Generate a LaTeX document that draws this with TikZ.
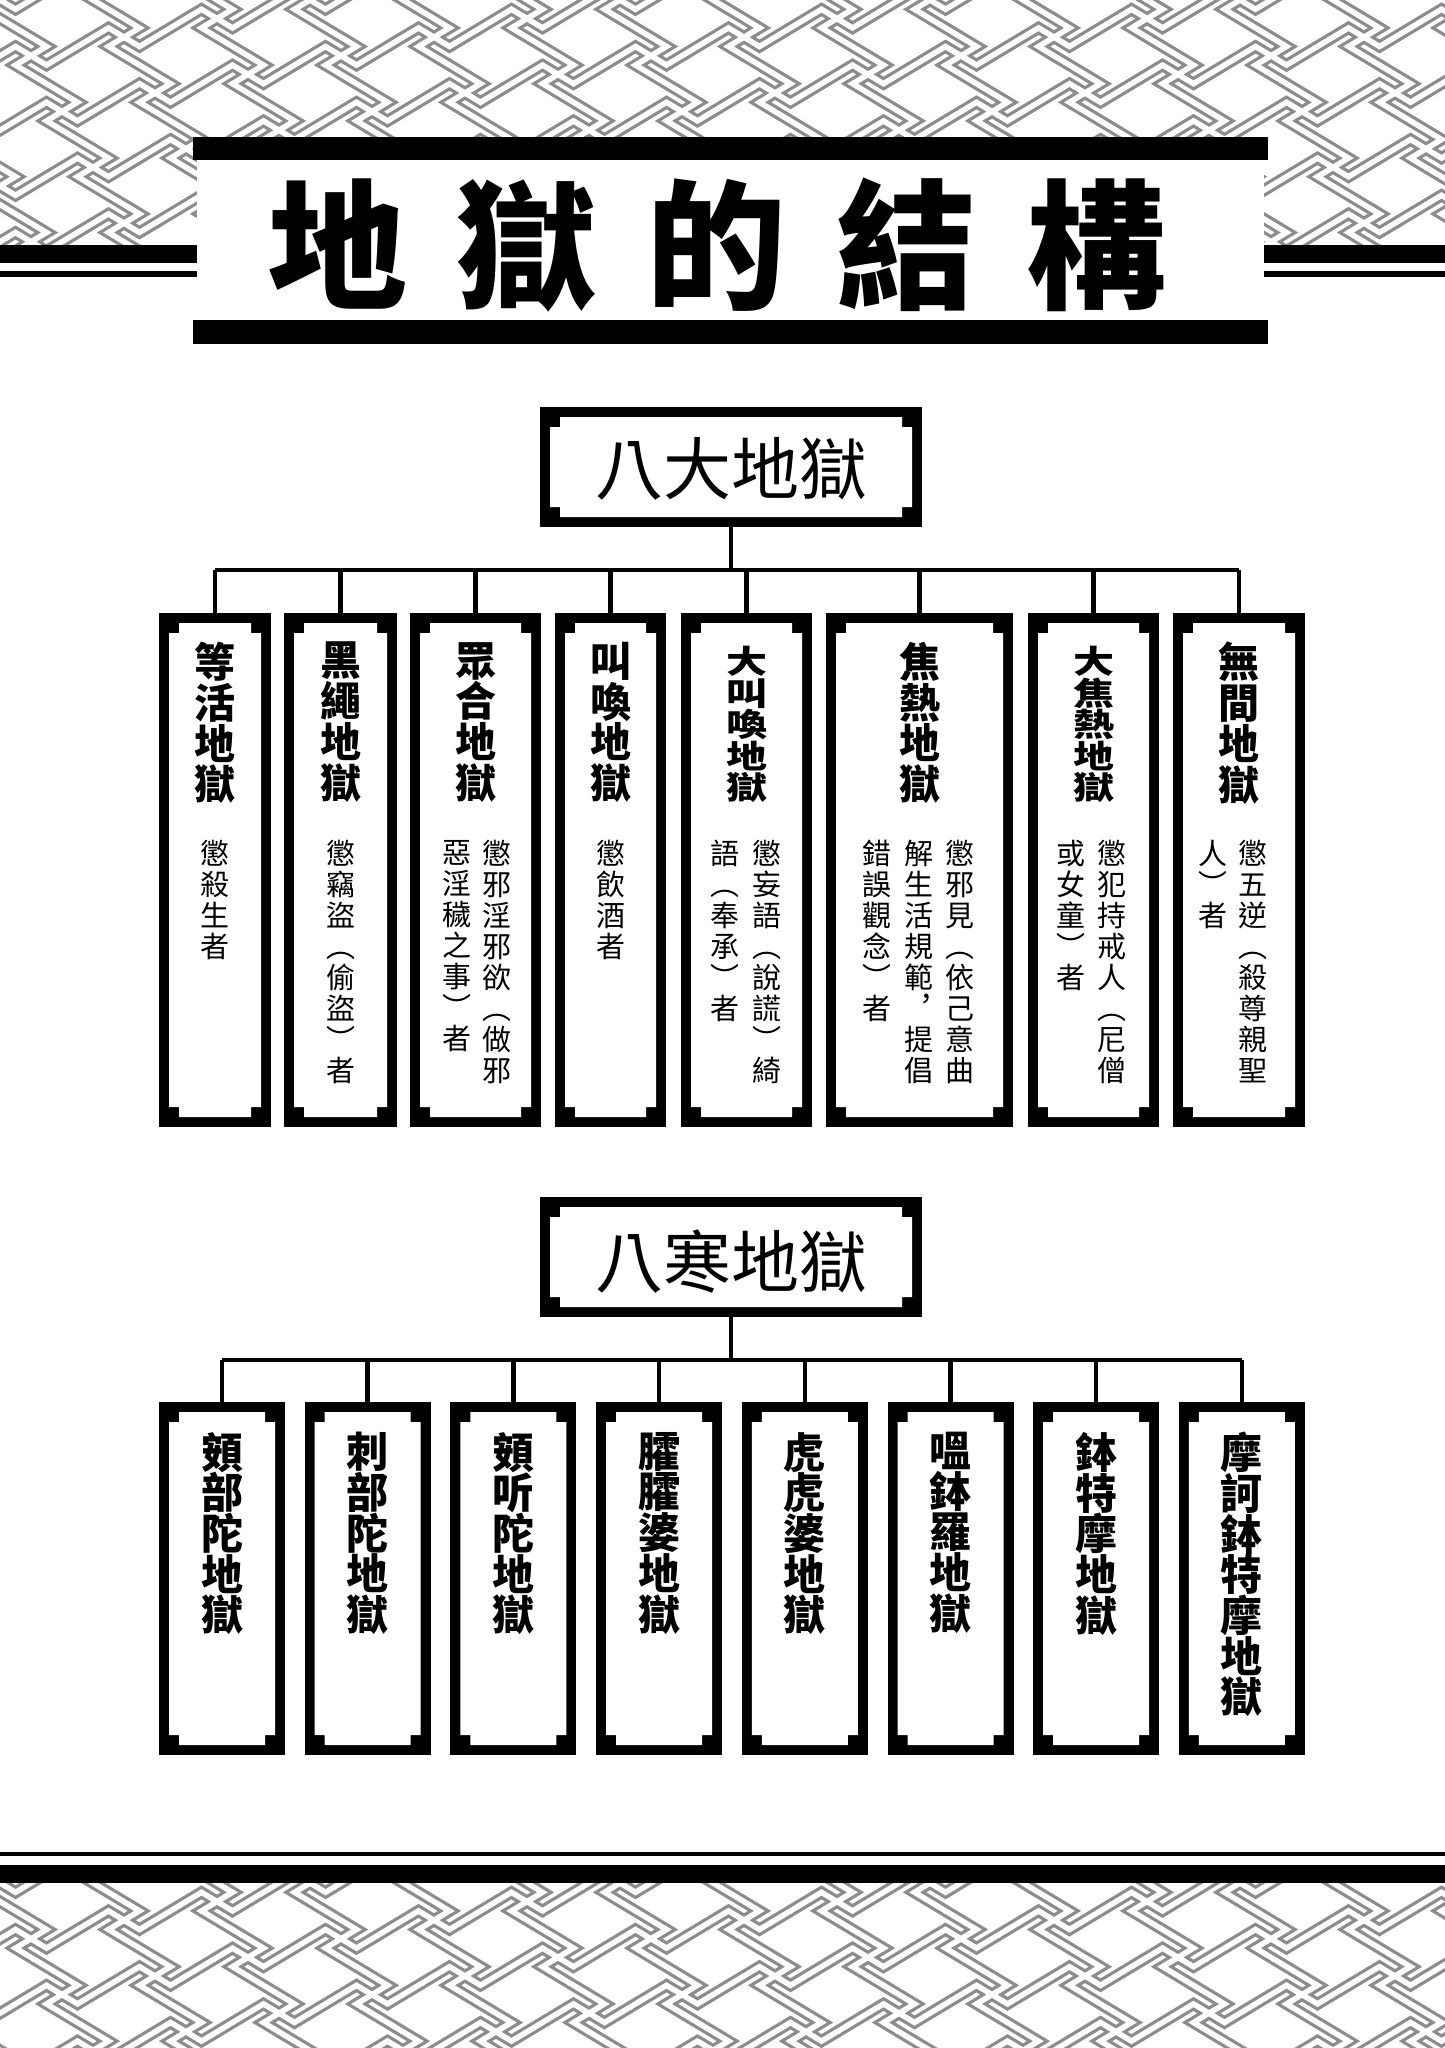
\documentclass[tikz,border=0pt]{standalone}
\usepackage{fontspec}
\usepackage{graphicx}
\usetikzlibrary{calc}
\newfontfamily\cjk{Noto Sans CJK TC}
\newcommand\sq[1]{\scalebox{1}[0.78]{#1}}
\definecolor{sayagray}{gray}{0.55}
% sayagata centre lines (square frame units): linked manji
\newcommand\sayagata{%
 \foreach \m in {-2,...,11} { \foreach \n in {-16,...,3} {
   ({10*\m+2*\n},{10*\m+4*\n}) -- ++(1,0) -- ++(0,2)
   ({10*\m+2*\n},{10*\m+4*\n}) -- ++(0,1) -- ++(-2,0)
   ({10*\m+2*\n},{10*\m+4*\n}) -- ++(-1,0) -- ++(0,-2)
   ({10*\m+2*\n},{10*\m+4*\n}) -- ++(0,-1) -- ++(2,0)
 }}}
\tikzset{
  framebox/.style={rectangle, fill=black, inner sep=0pt, draw=none,
    path picture={
      \fill[white] let \p1=(path picture bounding box.south west), \p2=(path picture bounding box.north east) in
        (\x1+20pt,\y1+10pt) -- (\x2-20pt,\y1+10pt) -- (\x2-20pt,\y1+20pt) -- (\x2-10pt,\y1+20pt) --
        (\x2-10pt,\y2-20pt) -- (\x2-20pt,\y2-20pt) -- (\x2-20pt,\y2-10pt) -- (\x1+20pt,\y2-10pt) --
        (\x1+20pt,\y2-20pt) -- (\x1+10pt,\y2-20pt) -- (\x1+10pt,\y1+20pt) -- (\x1+20pt,\y1+20pt) -- cycle;
    }},
  hdr/.style={framebox, minimum width=382pt, minimum height=120pt},
  upbox/.style={framebox, minimum height=514pt},
  lowbox/.style={framebox, minimum width=126pt, minimum height=353pt},
  ttl/.style={anchor=north, inner sep=0pt, align=center, font={\cjk\bfseries\fontsize{41}{40.7}\selectfont\lineskiplimit=-100pt}},
  ttlB/.style={anchor=north, inner sep=0pt, align=center, font={\cjk\bfseries\fontsize{42}{40.7}\selectfont\lineskiplimit=-100pt}},
  desc/.style={anchor=north, inner sep=0pt, align=center, font={\cjk\fontsize{29}{31}\selectfont\lineskiplimit=-100pt}},
  conn/.style={line width=4.5pt, black},
  sayaframe/.style={x={(15.5pt,-9.3pt)}, y={(15.5pt,9.3pt)}},
  sayaout/.style={draw=sayagray, line width=12pt, line cap=rect},
  sayain/.style={draw=white, line width=5.5pt, line cap=rect},
}
\begin{document}
\begin{tikzpicture}[x=1pt,y=-1pt]
\useasboundingbox (0,0) rectangle (1445,2048);
\fill[white] (0,0) rectangle (1445,2048);
% top pattern band
\begin{scope}
  \clip (0,0) rectangle (1445,245);
  \begin{scope}[sayaframe]
    \path[sayaout] \sayagata;
    \path[sayain] \sayagata;
  \end{scope}
\end{scope}
% bottom pattern band
\begin{scope}
  \clip (0,1883) rectangle (1445,2048);
  \begin{scope}[shift={(0pt,-1883pt)}, sayaframe]
    \path[sayaout] \sayagata;
    \path[sayain] \sayagata;
  \end{scope}
\end{scope}
% top rules
\fill[black] (0,245) rectangle (197,263);
\fill[black] (0,271) rectangle (197,277);
\fill[black] (1264,245) rectangle (1445,263);
\fill[black] (1264,271) rectangle (1445,277);
% title panel
\fill[white] (197,160) rectangle (1264,320);
\fill[black] (193,137) rectangle (1268,160);
\fill[black] (193,320) rectangle (1268,344);
\node[inner sep=0pt, font={\cjk\bfseries\fontsize{140}{140}\selectfont}] (title) at (717,245)
  {地\hspace{50pt}獄\hspace{50pt}的\hspace{50pt}結\hspace{50pt}構};
% bottom rules
\fill[black] (0,1852) rectangle (1445,1856);
\fill[black] (0,1865) rectangle (1445,1883);

% ===== 八大地獄 =====
\node[hdr] (hA) at (731,467) {};
\node[inner sep=0pt, font={\cjk\fontsize{68}{68}\selectfont}] (hAt) at (731,469) {八大地獄};
\coordinate (busA) at (731,570);

\node[upbox, minimum width=112pt] (a1) at (215,870) {};
\node[upbox, minimum width=113pt] (a2) at (340.5,870) {};
\node[upbox, minimum width=131pt] (a3) at (475.5,870) {};
\node[upbox, minimum width=111pt] (a4) at (610.5,870) {};
\node[upbox, minimum width=131pt] (a5) at (746.5,870) {};
\node[upbox, minimum width=187pt] (a6) at (919.5,870) {};
\node[upbox, minimum width=131pt] (a7) at (1093.5,870) {};
\node[upbox, minimum width=132pt] (a8) at (1239,870) {};

\draw[conn] (hA.south) -- (busA);
\draw[conn] (busA -| a1.north) -- (busA -| a8.north);
\foreach \b in {a1,a2,a3,a4,a5,a6,a7,a8} { \draw[conn] (busA -| \b.north) -- (\b.north); }

% titles
\node[ttl] (a1t) at (215,642) {等\\活\\地\\獄};
\node[ttl] (a2t) at (340.5,642) {黑\\繩\\地\\獄};
\node[ttl] (a3t) at (475.5,642) {眾\\合\\地\\獄};
\node[ttl] (a4t) at (610.5,642) {叫\\喚\\地\\獄};
\node[ttl, font={\cjk\bfseries\fontsize{41}{31.5}\selectfont\lineskiplimit=-100pt}] (a5t) at (746.5,646) {\sq{大}\\\sq{叫}\\\sq{喚}\\\sq{地}\\\sq{獄}};
\node[ttl] (a6t) at (919.5,642) {焦\\熱\\地\\獄};
\node[ttl, font={\cjk\bfseries\fontsize{41}{31.5}\selectfont\lineskiplimit=-100pt}] (a7t) at (1093.5,646) {\sq{大}\\\sq{焦}\\\sq{熱}\\\sq{地}\\\sq{獄}};
\node[ttl] (a8t) at (1239,642) {無\\間\\地\\獄};

% descriptions
\node[desc] (a1d) at (215,840) {懲\\殺\\生\\者};
\node[desc] (a2d) at (340.5,840) {懲\\竊\\盜\\︵\\偷\\盜\\︶\\者};
\node[desc] (a3d1) at (497,840) {懲\\邪\\淫\\邪\\欲\\︵\\做\\邪};
\node[desc] (a3d2) at (457,840) {惡\\淫\\穢\\之\\事\\︶\\者};
\node[desc] (a4d) at (610.5,840) {懲\\飲\\酒\\者};
\node[desc] (a5d1) at (767,840) {懲\\妄\\語\\︵\\說\\謊\\︶\\綺};
\node[desc] (a5d2) at (725,840) {語\\︵\\奉\\承\\︶\\者};
\node[desc] (a6d1) at (960,840) {懲\\邪\\見\\︵\\依\\己\\意\\曲};
\node[desc] (a6d2) at (919,840) {解\\生\\活\\規\\範\\︐\\提\\倡};
\node[desc] (a6d3) at (877,840) {錯\\誤\\觀\\念\\︶\\者};
\node[desc] (a7d1) at (1112,840) {懲\\犯\\持\\戒\\人\\︵\\尼\\僧};
\node[desc] (a7d2) at (1071,840) {或\\女\\童\\︶\\者};
\node[desc] (a8d1) at (1253,840) {懲\\五\\逆\\︵\\殺\\尊\\親\\聖};
\node[desc] (a8d2) at (1213,840) {人\\︶\\者};

% ===== 八寒地獄 =====
\node[hdr] (hB) at (731,1257) {};
\node[inner sep=0pt, font={\cjk\fontsize{68}{68}\selectfont}] (hBt) at (731,1262) {八寒地獄};
\coordinate (busB) at (731,1360);

\foreach \i/\t in {0/{頞\\部\\陀\\地\\獄},1/{刺\\部\\陀\\地\\獄},2/{頞\\听\\陀\\地\\獄},3/{臛\\臛\\婆\\地\\獄},4/{虎\\虎\\婆\\地\\獄},5/{嗢\\鉢\\羅\\地\\獄},6/{鉢\\特\\摩\\地\\獄},7/{摩\\訶\\鉢\\特\\摩\\地\\獄}} {
  \pgfmathsetmacro\cx{222+\i*145.7}
  \node[lowbox] (b\i) at (\cx,1578.5) {};
  \node[ttlB] (b\i t) at (\cx,1432) {\t};
}
\draw[conn] (hB.south) -- (busB);
\draw[conn] (busB -| b0.north) -- (busB -| b7.north);
\foreach \b in {b0,b1,b2,b3,b4,b5,b6,b7} { \draw[conn] (busB -| \b.north) -- (\b.north); }
\end{tikzpicture}
\end{document}
